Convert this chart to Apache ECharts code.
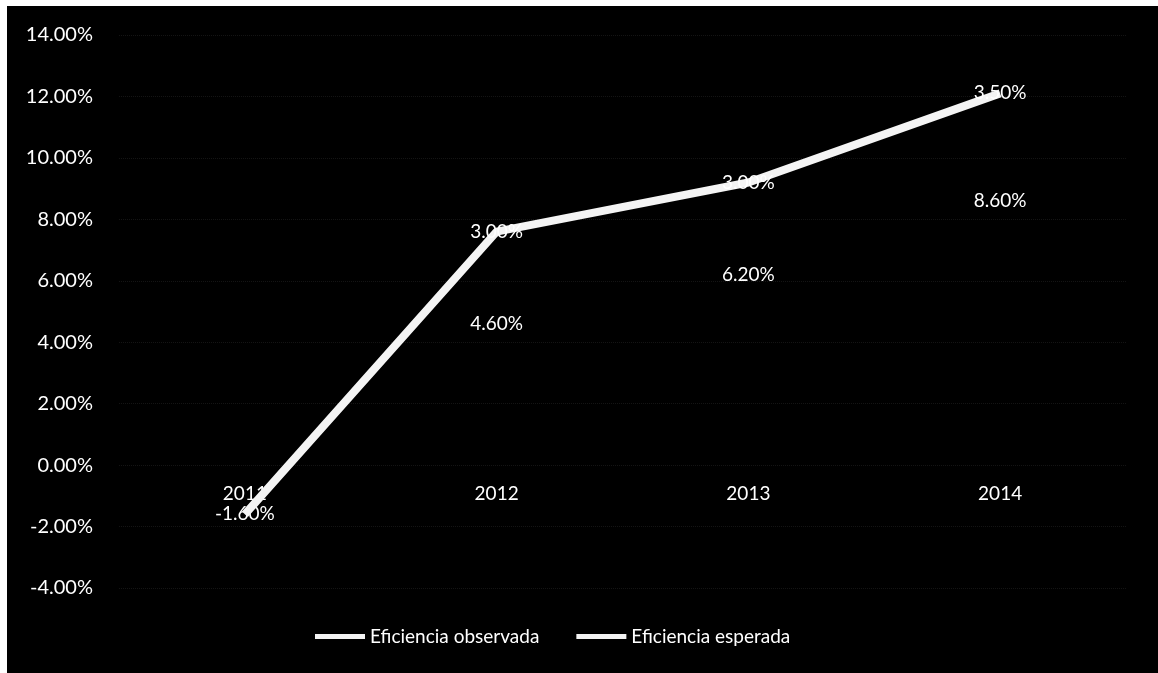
<!DOCTYPE html>
<html>
<head>
<meta charset="utf-8">
<script src="https://cdn.jsdelivr.net/npm/echarts@6/dist/echarts.min.js"></script>
<style>
html,body{margin:0;padding:0;background:#fff;}
#frame{position:absolute;left:7px;top:6px;width:1151px;height:667px;background:#000;}
#chart{position:absolute;left:0;top:0;width:1158px;height:673px;}
</style>
</head>
<body>
<div id="frame"></div>
<div id="chart"></div>
<script>
const categories = ['2011', '2012', '2013', '2014'];
const observada = [-1.6, 4.6, 6.2, 8.6];
const esperada = [0, 3.0, 3.0, 3.5];
const yTicks = { min: -4, max: 14, interval: 2 };

const fontFamily = 'Lato, "Open Sans", sans-serif';
const chart = echarts.init(document.getElementById('chart'), null, { renderer: 'canvas' });
const fmt = p => Number(p.value).toFixed(2) + '%';

const H = 673, gridTop = 35, gridBottom = 85;
const gridH = H - gridTop - gridBottom;
// move the category axis up to the zero line
const zeroOffset = -gridH * (0 - yTicks.min) / (yTicks.max - yTicks.min);

chart.setOption({
  backgroundColor: 'transparent',
  animation: false,
  grid: { left: 119, right: 32, top: gridTop, bottom: gridBottom },
  xAxis: {
    type: 'category',
    data: categories,
    boundaryGap: true,
    position: 'bottom',
    offset: zeroOffset,
    axisLine: { show: false, onZero: false },
    axisTick: { show: false },
    axisLabel: { color: '#fff', fontSize: 19, fontFamily, margin: 19 },
    splitLine: { show: false }
  },
  yAxis: {
    type: 'value',
    min: yTicks.min, max: yTicks.max, interval: yTicks.interval,
    axisLine: { show: false },
    axisTick: { show: false },
    axisLabel: { color: '#fff', fontSize: 20, fontFamily, margin: 26,
      formatter: v => v.toFixed(2) + '%' },
    splitLine: { show: true, lineStyle: { color: '#141414', type: 'dotted', width: 1 } }
  },
  legend: {
    bottom: 22,
    left: 310,
    itemWidth: 50,
    itemHeight: 5,
    itemGap: 37,
    icon: 'rect',
    textStyle: { color: '#fff', fontSize: 19, fontFamily },
    data: [
      { name: 'Eficiencia observada', itemStyle: { color: '#f4f4f4', opacity: 1 } },
      { name: 'Eficiencia esperada', itemStyle: { color: '#f4f4f4', opacity: 1 } }
    ]
  },
  series: [
    {
      name: 'Eficiencia observada',
      type: 'line',
      stack: 'total',
      data: observada,
      symbol: 'circle',
      symbolSize: 0,
      lineStyle: { color: '#000', width: 7, opacity: 0 },
      itemStyle: { color: '#f4f4f4' },
      label: { show: true, position: 'inside', color: '#fff', fontSize: 19, fontFamily, formatter: fmt },
      z: 2
    },
    {
      name: 'Eficiencia esperada',
      type: 'line',
      stack: 'total',
      data: esperada.map((v, i) => i === 0 ? { value: v, label: { show: false } } : v),
      symbol: 'circle',
      symbolSize: 0,
      lineStyle: { color: '#f4f4f4', width: 8, cap: 'butt' },
      itemStyle: { color: '#f4f4f4' },
      label: { show: true, position: 'inside', color: '#fff', fontSize: 19, fontFamily, formatter: fmt },
      z: 3
    }
  ]
});
</script>
</body>
</html>
